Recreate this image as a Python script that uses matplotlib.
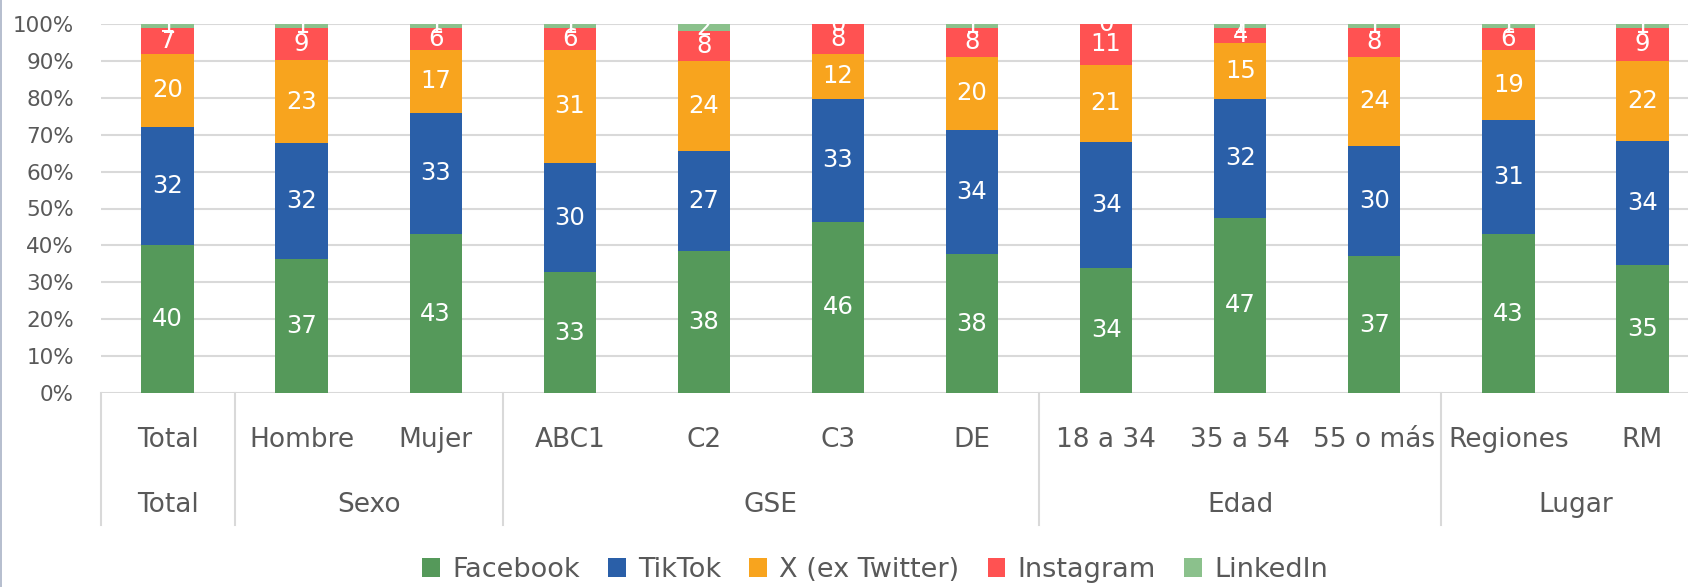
import matplotlib
matplotlib.use("Agg")
import matplotlib.pyplot as plt
import matplotlib.transforms as mtransforms
from matplotlib.lines import Line2D
import numpy as np

# data (labels are rounded %, bars are 100% stacked)
categories = ["Total", "Hombre", "Mujer", "ABC1", "C2", "C3", "DE",
              "18 a 34", "35 a 54", "55 o más", "Regiones", "RM"]
groups = ["Total", "Sexo", "GSE", "Edad", "Lugar"]
group_sizes = [1, 2, 4, 3, 2]

facebook = [40, 37, 43, 33, 38, 46, 38, 34, 47, 37, 43, 35]
tiktok = [32, 32, 33, 30, 27, 33, 34, 34, 32, 30, 31, 34]
twitter = [20, 23, 17, 31, 24, 12, 20, 21, 15, 24, 19, 22]
instagram = [7, 9, 6, 6, 8, 8, 8, 11, 4, 8, 6, 9]
linkedin = [1, 1, 1, 1, 2, 0, 1, 0, 1, 1, 1, 1]

series_names = ["Facebook", "TikTok", "X (ex Twitter)", "Instagram", "LinkedIn"]
colors = ["#55995A", "#2A5FA8", "#F8A41E", "#FF5252", "#8BC18C"]
text_gray = "#595959"
grid_gray = "#D9D9D9"

plt.rcParams['font.family'] = ['DejaVu Sans']

W, H = 1688, 587
fig = plt.figure(figsize=(W / 100, H / 100), dpi=100)
# plot area runs past the right edge, like the cropped original
ax = fig.add_axes([100.5 / W, 1 - 393 / H, 1609 / W, 369 / H])

values = np.array([facebook, tiktok, twitter, instagram, linkedin], dtype=float)
shares = values / values.sum(axis=0) * 100
x = np.arange(len(categories))
bottom = np.zeros(len(categories))
for name, share, raw, col in zip(series_names, shares, values, colors):
    ax.bar(x, share, width=0.39, bottom=bottom, color=col, label=name, zorder=2)
    for xi, b, s, r in zip(x, bottom, share, raw):
        ax.text(xi, b + s / 2, f"{int(r)}", ha="center", va="center",
                color="white", fontsize=17.5, zorder=3, clip_on=False)
    bottom += share

ax.set_xlim(-0.5, len(categories) - 0.5)
ax.set_ylim(0, 100)
ax.set_yticks(np.arange(0, 101, 10))
ax.set_yticklabels([f"{v}%" for v in range(0, 101, 10)])
ax.tick_params(axis="y", length=0, pad=19, labelsize=15.5, labelcolor=text_gray)
ax.set_xticks([])
ax.yaxis.grid(True, color=grid_gray, linewidth=1.5, zorder=0)
ax.set_axisbelow(True)
for sp in ax.spines.values():
    sp.set_visible(False)

# two-level category axis
trans = mtransforms.blended_transform_factory(ax.transData, ax.transAxes)
row1 = -(440 - 393) / 369
row2 = -(505 - 393) / 369
for xi, lab in zip(x, categories):
    ax.text(xi, row1, lab, transform=trans, ha="center", va="center",
            fontsize=19, color=text_gray)

edges = np.concatenate([[0], np.cumsum(group_sizes)]) - 0.5
for g, a, b in zip(groups, edges[:-1], edges[1:]):
    ax.text((a + b) / 2, row2, g, transform=trans, ha="center", va="center",
            fontsize=19, color=text_gray)
sep_bottom = -(525 - 393) / 369
for e in edges[:-1]:
    ax.plot([e, e], [0, sep_bottom], transform=trans, color=grid_gray,
            linewidth=1.5, clip_on=False)

# thin frame line on the left edge of the image
fig.add_artist(Line2D([0.6 / W, 0.6 / W], [0, 1], color="#A9B3C6", linewidth=1.2))

fig.legend(loc="center", bbox_to_anchor=(875 / W, 1 - 570 / H), ncol=5,
           frameon=False, fontsize=19.5, labelcolor=text_gray,
           handlelength=0.65, handleheight=0.65, handletextpad=0.45,
           columnspacing=1.05)

fig.savefig("out.png", dpi=100, facecolor="white")
